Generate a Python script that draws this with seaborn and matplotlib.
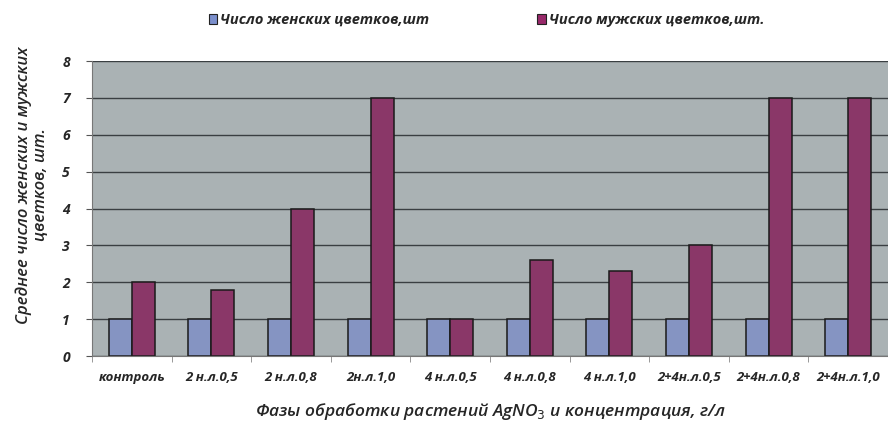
import matplotlib
matplotlib.use("Agg")
import matplotlib.pyplot as plt
import pandas as pd
import seaborn as sns
import numpy as np

# categories and values
categories = ["контроль", "2 н.л.0,5", "2 н.л.0,8", "2н.л.1,0", "4 н.л.0,5",
              "4 н.л.0,8", "4 н.л.1,0", "2+4н.л.0,5", "2+4н.л.0,8", "2+4н.л.1,0"]
female = [1, 1, 1, 1, 1, 1, 1, 1, 1, 1]
male = [2, 1.8, 4, 7, 1, 2.6, 2.3, 3, 7, 7]
series_names = ["Число женских цветков,шт", "Число мужских цветков,шт."]

df = pd.DataFrame({
    "cat": categories * 2,
    "val": female + male,
    "series": [series_names[0]] * len(categories) + [series_names[1]] * len(categories),
})

sns.set_style("white")
plt.rcParams["font.family"] = ["Open Sans", "DejaVu Sans"]

fig = plt.figure(figsize=(8.88, 4.21), dpi=100)
ax = fig.add_axes([0.1036, 0.154, 0.8964, 0.701])
ax.set_facecolor("#aab2b4")

ax.set_axisbelow(True)
ax.yaxis.grid(True, color="#3a3f42", linewidth=1.0)

sns.barplot(data=df, x="cat", y="val", hue="series", order=categories,
            palette=["#7b8fcc", "#98296a"], width=0.58, edgecolor="#1a1a1a",
            linewidth=1.1, ax=ax, legend=False)

ax.set_ylim(0, 8)
ax.set_xlim(-0.5, len(categories) - 0.5)
ax.set_yticks(range(0, 9))
ax.set_xlabel("Фазы обработки растений AgNO$_3$ и концентрация, г/л",
              fontsize=12.5, style="italic", fontweight="semibold", labelpad=12)
ax.set_ylabel("Среднее число женских и мужских\nцветков, шт.",
              fontsize=12, style="italic", fontweight="semibold",
              linespacing=1.1)
ax.yaxis.set_label_coords(-0.054, 0.58)

for lbl in ax.get_xticklabels():
    lbl.set_fontsize(9.5)
    lbl.set_fontweight("bold")
    lbl.set_fontstyle("italic")
for lbl in ax.get_yticklabels():
    lbl.set_fontsize(10)
    lbl.set_fontweight("bold")
    lbl.set_fontstyle("italic")

ax.tick_params(axis="x", length=0, pad=11)
ax.tick_params(axis="y", length=4, color="#555555", left=True, pad=12)
ax.set_xticks(np.arange(-0.5, len(categories), 1.0), minor=True)
ax.tick_params(axis="x", which="minor", length=4, color="#888888", bottom=True)

for side in ["top", "right"]:
    ax.spines[side].set_visible(False)
ax.spines["left"].set_color("#777777")
ax.spines["bottom"].set_color("#777777")

handles = [plt.Rectangle((0, 0), 1, 1, facecolor=c, edgecolor="#222222", linewidth=0.8)
           for c in ["#7b8fcc", "#98296a"]]
fig.legend(handles, series_names, loc="upper center", bbox_to_anchor=(0.548, 1.0),
           ncol=2, frameon=False, columnspacing=7.4, handlelength=0.6, handleheight=0.7,
           handletextpad=0.2, prop={"size": 10.5, "style": "italic", "weight": "bold"})

fig.savefig("out.png", dpi=100)
